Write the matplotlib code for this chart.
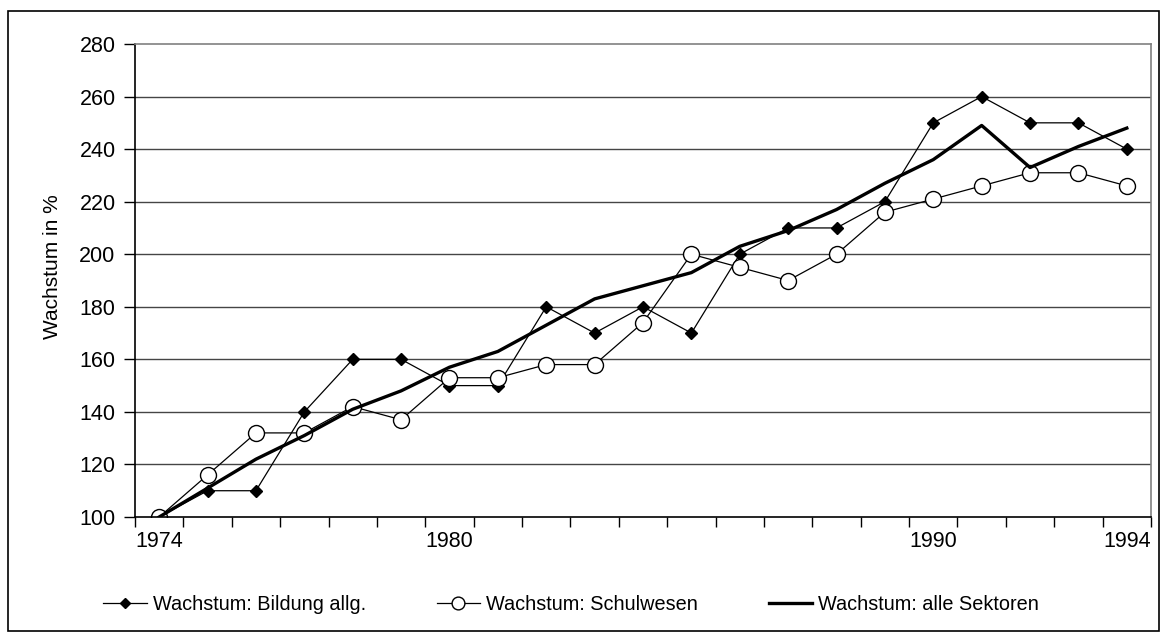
import matplotlib
matplotlib.use("Agg")
import matplotlib.pyplot as plt
from matplotlib.patches import Rectangle

# =========================
# Daten
# =========================

years = list(range(1974, 1995))
tick_years = [1974, 1980, 1990, 1994]

bildung = [100, 110, 110, 140, 160, 160, 150, 150, 180, 170, 180,
           170, 200, 210, 210, 220, 250, 260, 250, 250, 240]
schulwesen = [100, 116, 132, 132, 142, 137, 153, 153, 158, 158, 174,
              200, 195, 190, 200, 216, 221, 226, 231, 231, 226]
alle = [100, 111, 122, 131, 141, 148, 157, 163, 173, 183, 188,
        193, 203, 209, 217, 227, 236, 249, 233, 241, 248]

labels = ["Wachstum: Bildung allg.", "Wachstum: Schulwesen",
          "Wachstum: alle Sektoren"]

y_ticks = list(range(100, 281, 20))

plt.rcParams["font.family"] = ["Liberation Sans", "DejaVu Sans"]
FS_TICK = 15.5
FS_LAB = 15
FS_LEG = 14.3

fig = plt.figure(figsize=(11.61, 6.32), dpi=100)
ax = fig.add_axes([135 / 1161, 1 - 517 / 632, (1151 - 135) / 1161, (517 - 44) / 632])

x = list(range(len(years)))

ax.plot(x, bildung, color="black", lw=0.9, marker="D", ms=6,
        mfc="black", mec="black", label=labels[0])
ax.plot(x, schulwesen, color="black", lw=0.9, marker="o", ms=11.5,
        mfc="white", mec="black", mew=1.0, label=labels[1])
ax.plot(x, alle, color="black", lw=2.4, label=labels[2])

# Achsen
ax.set_xlim(-0.5, len(years) - 0.5)
ax.set_ylim(100, 280)
ax.set_yticks(y_ticks)
ax.tick_params(axis="y", labelsize=FS_TICK, length=8, width=1, direction="out", pad=6)

# Ticks zwischen den Kategorien, Beschriftung nur bei einigen Jahren
ax.set_xticks([i - 0.5 for i in range(len(years) + 1)])
ax.set_xticklabels([])
ax.tick_params(axis="x", which="major", length=7, width=1, direction="out")
ax.set_xticks([years.index(y) for y in tick_years], minor=True)
ax.set_xticklabels([str(y) for y in tick_years], minor=True)
ax.tick_params(axis="x", which="minor", length=0, labelsize=FS_TICK, pad=10)

for yv in y_ticks[1:-1]:
    ax.axhline(yv, color="#454545", lw=1.0, zorder=0)

ax.spines["left"].set_color("black")
ax.spines["bottom"].set_color("black")
ax.spines["top"].set_color("#808080")
ax.spines["right"].set_color("#808080")
for s in ax.spines.values():
    s.set_linewidth(1.2)

ax.set_ylabel("Wachstum in %", fontsize=FS_LAB)
ax.yaxis.set_label_coords(-0.072, 0.53)

fig.legend(loc="center", bbox_to_anchor=(0.492, 0.044), ncol=3, frameon=False,
           fontsize=FS_LEG, handlelength=2.2, handletextpad=0.3, columnspacing=3.55,
           markerscale=0.8)

# Rahmen um das gesamte Diagramm
fig.patches.append(Rectangle((8 / 1161, 1 / 632), (1159 - 8) / 1161, (631 - 11) / 632,
                             transform=fig.transFigure, fill=False,
                             edgecolor="black", lw=1.2))

fig.savefig("out.png", dpi=100)
